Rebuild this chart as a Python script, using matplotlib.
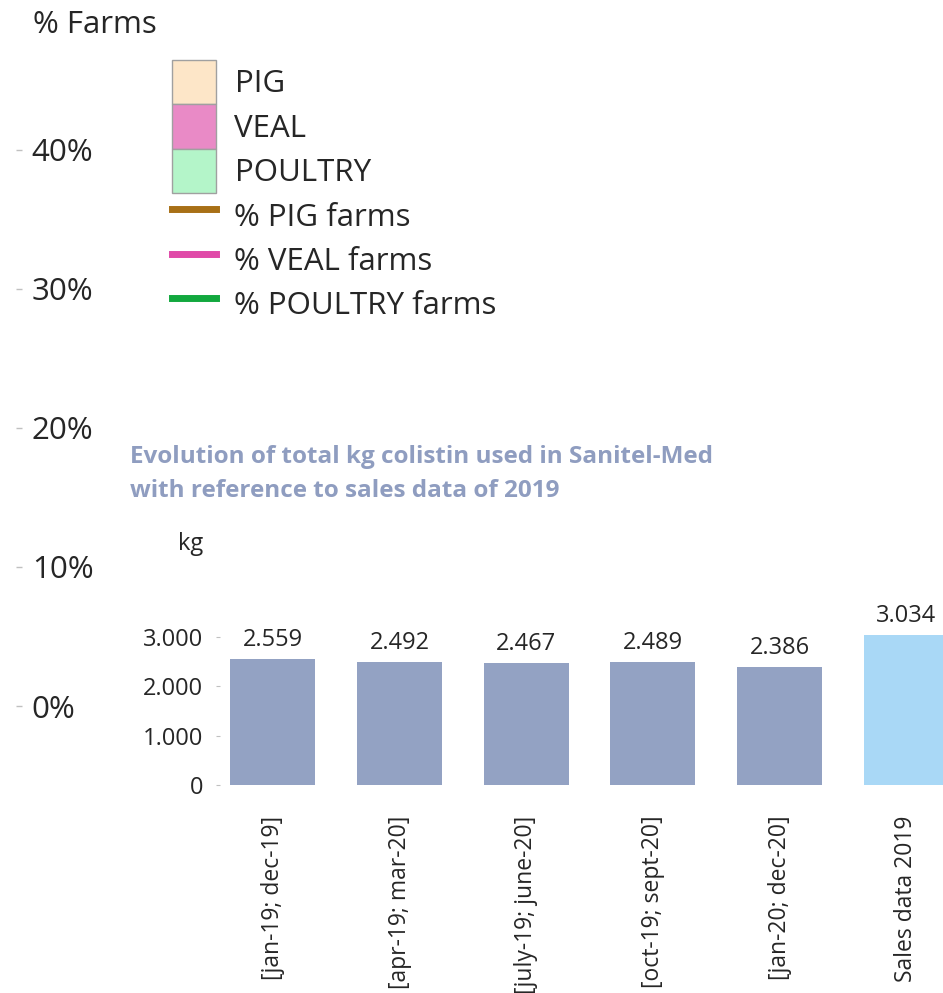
import matplotlib
matplotlib.use('Agg')
import matplotlib.pyplot as plt
from matplotlib.patches import Patch
from matplotlib.lines import Line2D

plt.rcParams['font.family'] = ['Open Sans', 'DejaVu Sans']

# back chart: % of farms (no marks visible)
pct_ticks = [0, 10, 20, 30, 40]
pct_labels = ['0%', '10%', '20%', '30%', '40%']
legend_patches = ['PIG', 'VEAL', 'POULTRY']
legend_lines = ['% PIG farms', '% VEAL farms', '% POULTRY farms']

# front chart: kg colistin
periods = ['[jan-19; dec-19]', '[apr-19; mar-20]', '[july-19; june-20]',
           '[oct-19; sept-20]', '[jan-20; dec-20]', 'Sales data 2019']
kg_values = [2559, 2492, 2467, 2489, 2386, 3034]
kg_ticks = [0, 1000, 2000, 3000]
kg_tick_labels = ['0', '1.000', '2.000', '3.000']

W, H = 943, 993
fig = plt.figure(figsize=(W / 100, H / 100), dpi=100)

def box(x0, y0, x1, y1):
    # pixel box (top-left origin) -> figure fraction
    return [x0 / W, 1 - y1 / H, (x1 - x0) / W, (y1 - y0) / H]

big = 22.5
small = 17

# ---- back axes (% Farms)
ax0 = fig.add_axes(box(22, 80, 920, 706))
ax0.set_ylim(0, 45)
ax0.set_xlim(0, 1)
for s in ax0.spines.values():
    s.set_visible(False)
ax0.set_xticks([])
ax0.set_yticks(pct_ticks)
ax0.set_yticklabels(pct_labels)
ax0.tick_params(axis='y', length=4.5, width=1, color='#c0c0c0', pad=-11.5,
                labelsize=big, labelcolor='#262626')
plt.setp(ax0.get_yticklabels(), ha='left')
fig.text(33 / W, 1 - 25 / H, '% Farms', fontsize=big, color='#262626', va='center')

patch_colors = ['#fde6c8', '#e98ac6', '#b4f5c9']
line_colors = ['#a87016', '#e04aa8', '#12a83e']
handles = [Patch(facecolor=c, edgecolor='#a0a0a0', linewidth=1) for c in patch_colors]
handles += [Line2D([], [], color=c, linewidth=5) for c in line_colors]
fig.legend(handles, legend_patches + legend_lines, loc='upper left',
           bbox_to_anchor=(172 / W, 1 - 60 / H), frameon=False, fontsize=big,
           handlelength=1.4, handleheight=1.81, labelspacing=0, handletextpad=0.6,
           borderpad=0, borderaxespad=0, labelcolor='#262626')

# ---- front axes (kg colistin)
ax = fig.add_axes(box(219.7, 627, 969.5, 785))
ax.set_facecolor('none')
x = list(range(len(periods)))
colors = ['#93a2c3'] * 5 + ['#a9d8f6']
bars = ax.bar(x, kg_values, width=0.67, color=colors)
ax.set_xlim(-0.42, 5.5)
ax.set_ylim(0, 3200)
for s in ax.spines.values():
    s.set_visible(False)
ax.set_yticks(kg_ticks)
ax.set_yticklabels(kg_tick_labels)
ax.set_xticks(x)
ax.set_xticklabels(periods, rotation=90, va='top', ha='center')
ax.tick_params(axis='y', length=3, color='#c0c0c0', pad=9, labelsize=small, labelcolor='#262626')
ax.tick_params(axis='x', length=0, pad=22, labelsize=16.5, labelcolor='#262626')
for xi, v in zip(x, kg_values):
    ax.annotate('{:,}'.format(v).replace(',', '.'), (xi, v), xytext=(0, 5),
                textcoords='offset points', ha='center', va='bottom',
                fontsize=small, color='#262626', annotation_clip=False)
fig.text(178 / W, 1 - 544 / H, 'kg', fontsize=small, color='#262626', va='center')
fig.text(130 / W, 1 - 445 / H,
         'Evolution of total kg colistin used in Sanitel-Med\nwith reference to sales data of 2019',
         fontsize=17.5, fontweight='bold', color='#8f9dc0', va='top', linespacing=1.58)

fig.savefig('out.png', dpi=100)
